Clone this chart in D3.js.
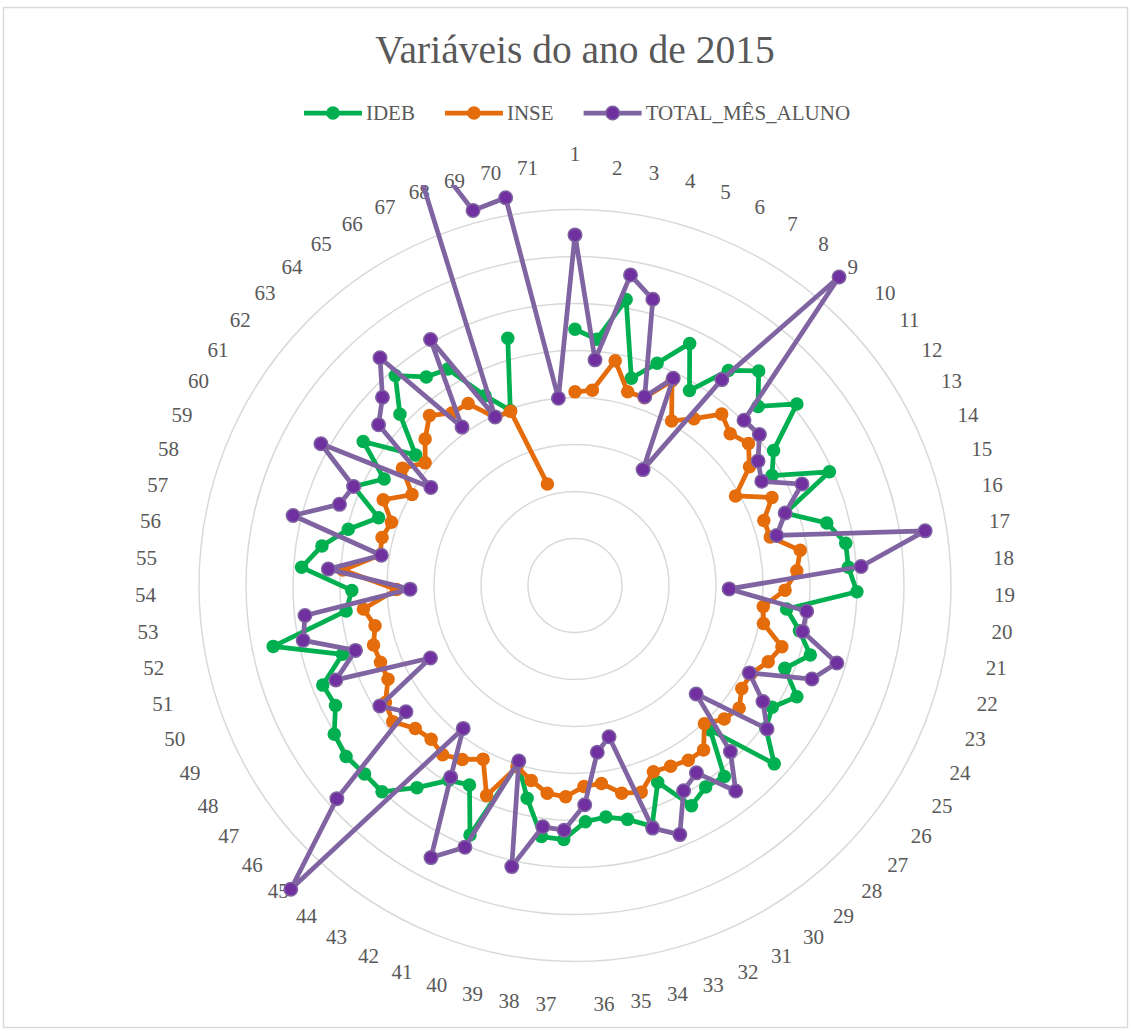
<!DOCTYPE html>
<html>
<head>
<meta charset="utf-8">
<script src="https://cdn.jsdelivr.net/npm/d3@7"></script>
<style>
  body { margin: 0; background: #fff; }
  text { font-family: "Liberation Serif", serif; fill: #595959; }
</style>
</head>
<body>
<svg id="chart" width="1131" height="1031"></svg>
<script>
// categorias 1..71
const categories = d3.range(1, 72).map(String);

// valores (em unidades dos anéis, 0..8)
const ideb = [5.45, 5.26, 6.18, 4.57, 5.04, 5.70, 4.81, 5.62, 6.01, 5.45,
  6.10, 5.11, 4.80, 5.93, 4.73, 5.52, 5.83, 5.83, 6.00, 4.53,
  4.87, 5.22, 4.80, 5.28, 4.93, 5.07, 5.69, 4.21, 5.16, 5.11,
  5.30, 4.54, 5.38, 5.10, 4.97, 5.03, 5.41, 5.39, 4.64, 3.97,
  5.76, 4.80, 4.94, 5.46, 6.01, 6.01, 6.08, 6.02, 5.70, 5.77,
  5.16, 6.55, 4.90, 4.75, 5.83, 5.45, 4.97, 4.42, 5.16, 4.65,
  5.45, 4.38, 5.21, 5.88, 5.45, 5.34, 4.47, 3.97, 5.45, null, null];

const inse = [4.12, 4.17, 4.86, 4.27, 4.26, 4.82, 4.06, 4.36, 4.80, 4.62,
  4.77, 4.49, 3.91, 4.59, 4.25, 4.28, 4.85, 4.73, 4.47, 4.03,
  4.09, 4.59, 4.42, 4.19, 4.17, 4.36, 4.26, 4.03, 4.44, 4.43,
  4.35, 4.30, 4.62, 4.53, 4.25, 4.28, 4.50, 4.46, 4.25, 4.05,
  4.85, 4.18, 4.41, 4.57, 4.48, 4.56, 4.84, 4.74, 4.45, 4.45,
  4.47, 4.34, 4.53, 3.80, 4.95, 4.20, 4.23, 4.13, 4.47, 3.97,
  4.44, 4.12, 4.46, 4.76, 4.51, 4.49, 3.96, 3.95, 2.24, null, null];

const totalMesAluno = [7.46, 4.82, 6.71, 6.31, 4.28, 4.88, 2.86, 5.38, 8.64, 5.03,
  5.07, 4.71, 4.55, 5.29, 4.73, 4.42, 7.54, 6.10, 3.28, 4.96,
  4.94, 5.81, 5.42, 4.15, 4.70, 5.10, 3.46, 4.84, 5.55, 4.75,
  4.94, 5.75, 5.42, 3.30, 3.58, 4.67, 5.21, 5.18, 6.13, 3.92,
  6.04, 6.55, 4.86, 3.86, 8.85, 6.80, 4.49, 4.88, 3.44, 5.47,
  4.87, 5.90, 5.78, 3.51, 5.26, 4.17, 6.18, 5.30, 5.16, 6.19,
  3.71, 5.40, 5.73, 6.38, 4.14, 6.07, 3.97, 10.57, 8.27, 8.38, 4.00];

const ringTicks = [1, 2, 3, 4, 5, 6, 7, 8];

const seriesNames = ["IDEB", "INSE", "TOTAL_MÊS_ALUNO"];
const seriesData = [ideb, inse, totalMesAluno];
const lineColors = ["#00B050", "#E46C0A", "#8064A2"];
const markerColors = ["#00B050", "#E46C0A", "#7030A0"];

const width = 1131, height = 1031;
const cx = 575, cy = 585.5;

const svg = d3.select("#chart");

// borda da área do gráfico
svg.append("rect")
  .attr("x", 3.5).attr("y", 7.5)
  .attr("width", 1124).attr("height", 1020)
  .attr("fill", "#fff")
  .attr("stroke", "#D9D9D9")
  .attr("stroke-width", 1.5);

// título
svg.append("text")
  .attr("x", cx).attr("y", 63)
  .attr("text-anchor", "middle")
  .style("font-size", "39.5px")
  .text("Variáveis do ano de 2015");

const r = d3.scaleLinear().domain([0, 8]).range([0, 376]);
const angle = d3.scaleLinear().domain([0, categories.length]).range([0, 2 * Math.PI]);

const g = svg.append("g").attr("transform", `translate(${cx},${cy})`);

// anéis da grade
g.selectAll(".ring")
  .data(ringTicks)
  .enter().append("circle")
  .attr("class", "ring")
  .attr("r", d => r(d))
  .attr("fill", "none")
  .attr("stroke", "#D9D9D9")
  .attr("stroke-width", 1.5);

// rótulos das categorias: ancorados num círculo externo, à esquerda/direita conforme o lado
const labelR = 419;
g.selectAll(".cat")
  .data(categories)
  .enter().append("text")
  .attr("class", "cat")
  .style("font-size", "21px")
  .each(function(d, i) {
    const a = angle(i);
    const s = Math.sin(a), c = Math.cos(a);
    const t = d3.select(this).text(d)
      .attr("x", labelR * s)
      .attr("y", -labelR * c);
    if (Math.abs(s) < 1e-6) {
      t.attr("text-anchor", "middle").attr("dy", c > 0 ? "-0.25em" : "0.9em");
    } else {
      t.attr("text-anchor", s > 0 ? "start" : "end").attr("dominant-baseline", "central");
    }
  });

// recorte como na área de plotagem do Excel
svg.append("clipPath").attr("id", "plotClip")
  .append("rect")
  .attr("x", 120 - cx).attr("y", 185 - cy)
  .attr("width", 900).attr("height", 840);

const plot = g.append("g").attr("clip-path", "url(#plotClip)");

const line = d3.lineRadial()
  .defined(d => d.v != null)
  .angle(d => angle(d.i))
  .radius(d => r(d.v));

seriesData.forEach((vals, k) => {
  const pts = vals.map((v, i) => ({ i: i, v: v }));
  // fecha o polígono voltando ao primeiro ponto
  const closed = pts.concat([{ i: vals.length, v: vals[0] }]);
  if (vals[vals.length - 1] == null) closed[closed.length - 1].v = null;

  const sg = plot.append("g").attr("class", "series");
  sg.append("path")
    .attr("d", line(closed))
    .attr("fill", "none")
    .attr("stroke", lineColors[k])
    .attr("stroke-width", 4.75)
    .attr("stroke-linejoin", "round");

  sg.selectAll("circle")
    .data(pts.filter(d => d.v != null))
    .enter().append("circle")
    .attr("cx", d => r(d.v) * Math.sin(angle(d.i)))
    .attr("cy", d => -r(d.v) * Math.cos(angle(d.i)))
    .attr("r", 6.75)
    .attr("fill", markerColors[k])
    .attr("stroke", lineColors[k])
    .attr("stroke-width", k === 2 ? 1.5 : 0);
});

// legenda (centrada, posições calculadas a partir da largura dos textos)
const legend = svg.append("g").attr("transform", "translate(0,113)");
const keyLen = 58, keyGap = 4, itemGap = 30;
const items = seriesNames.map((name, k) => {
  const lg = legend.append("g");
  lg.append("line")
    .attr("x1", 0).attr("x2", keyLen)
    .attr("stroke", lineColors[k])
    .attr("stroke-width", 4.75);
  lg.append("circle")
    .attr("cx", keyLen / 2).attr("r", 6.75)
    .attr("fill", markerColors[k])
    .attr("stroke", lineColors[k])
    .attr("stroke-width", k === 2 ? 1.5 : 0);
  const t = lg.append("text")
    .attr("x", keyLen + keyGap).attr("dominant-baseline", "central")
    .style("font-size", "21px")
    .text(name);
  return { lg: lg, w: keyLen + keyGap + t.node().getComputedTextLength() };
});
const total = d3.sum(items, d => d.w) + itemGap * (items.length - 1);
let lx = 577 - total / 2;
items.forEach(d => {
  d.lg.attr("transform", `translate(${lx},0)`);
  lx += d.w + itemGap;
});
</script>
</body>
</html>
